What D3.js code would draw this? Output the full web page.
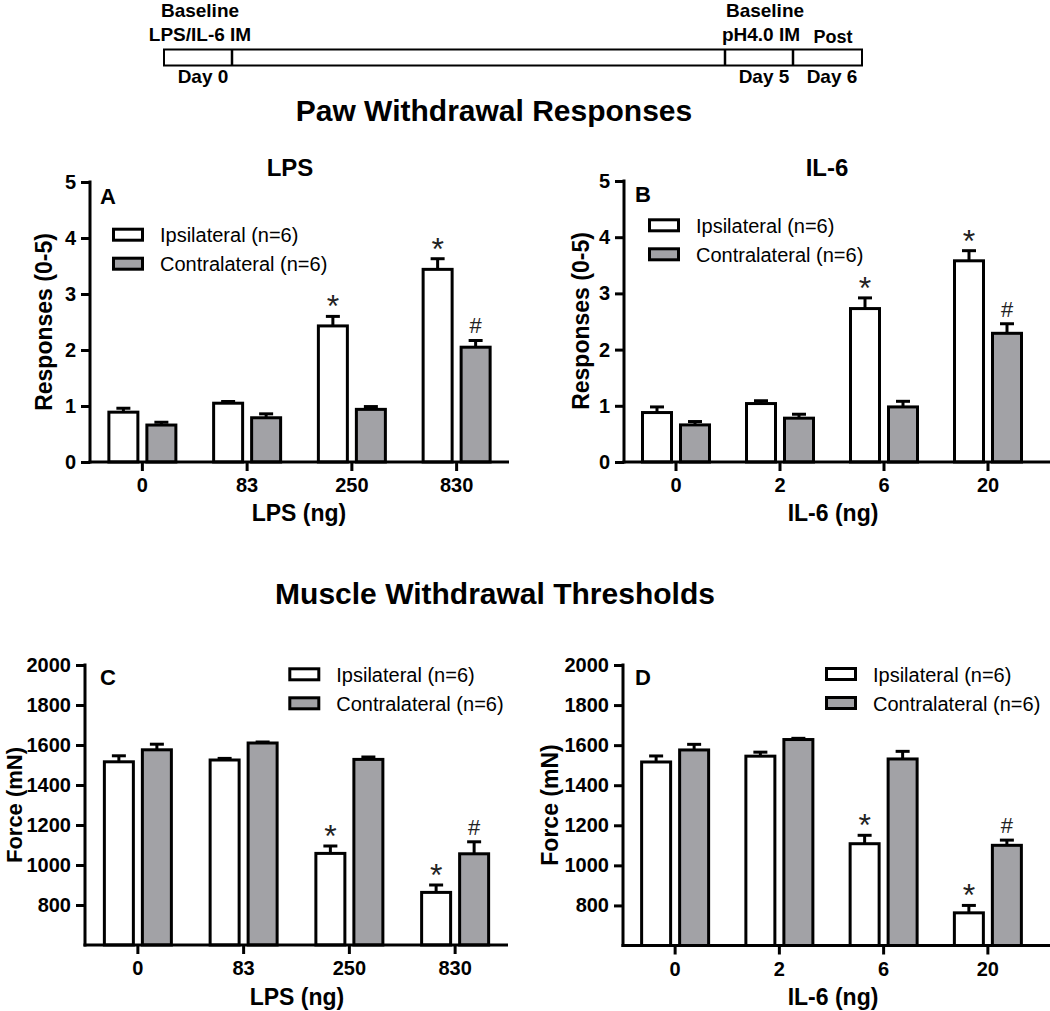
<!DOCTYPE html>
<html>
<head>
<meta charset="utf-8">
<script src="https://cdn.jsdelivr.net/npm/d3@7"></script>
<style>
  html, body { margin: 0; padding: 0; background: #fff; }
  svg { display: block; font-family: "Liberation Sans", Arial, Helvetica, sans-serif; }
</style>
</head>
<body>
<svg id="chart" width="1050" height="1011"></svg>
<script>
// ---------------- DATA ----------------
const lpsDoses = ["0", "83", "250", "830"];
const il6Doses = ["0", "2", "6", "20"];
const seriesNames = ["Ipsilateral (n=6)", "Contralateral (n=6)"];

// Paw withdrawal responses (0-5)
const pawLpsIpsi      = [0.89, 1.05, 2.43, 3.44];
const pawLpsIpsiSem   = [0.07, 0.03, 0.17, 0.19];
const pawLpsContra    = [0.66, 0.79, 0.94, 2.05];
const pawLpsContraSem = [0.05, 0.07, 0.05, 0.12];

const pawIl6Ipsi      = [0.88, 1.04, 2.73, 3.58];
const pawIl6IpsiSem   = [0.10, 0.05, 0.19, 0.18];
const pawIl6Contra    = [0.66, 0.78, 0.98, 2.29];
const pawIl6ContraSem = [0.06, 0.07, 0.10, 0.17];

// Muscle withdrawal thresholds (mN)
const musLpsIpsi      = [1516, 1525, 1058, 863];
const musLpsIpsiSem   = [30, 8, 37, 37];
const musLpsContra    = [1576, 1610, 1528, 1056];
const musLpsContraSem = [28, 5, 12, 60];

const musIl6Ipsi      = [1516, 1545, 1108, 763];
const musIl6IpsiSem   = [30, 20, 42, 37];
const musIl6Contra    = [1576, 1628, 1531, 1100];
const musIl6ContraSem = [28, 6, 38, 26];

// significance markers: [series index, category index, symbol]
const sigLps = [[0, 2, "*"], [0, 3, "*"], [1, 3, "#"]];
const sigIl6 = [[0, 2, "*"], [0, 3, "*"], [1, 3, "#"]];

const responseTicks = [0, 1, 2, 3, 4, 5];
const forceTicks = [800, 1000, 1200, 1400, 1600, 1800, 2000];

// Timeline
const timelineTop = [["Baseline", "LPS/IL-6 IM"], ["Baseline", "pH4.0 IM"]];
const timelineDays = ["Day 0", "Day 5", "Day 6"];

// ---------------- DRAW ----------------
const svg = d3.select("#chart");
const FONT = '"Liberation Sans", Arial, Helvetica, sans-serif';
const GRAY = "#a2a2a6";

// ---- timeline schematic
const tl = svg.append("g");
const tScale = d3.scaleLinear().domain([-1, 0, 5, 6, 7]).range([164, 232, 725, 793, 862]);
tl.append("rect").attr("x", tScale(-1)).attr("y", 49.5).attr("width", tScale(7) - tScale(-1)).attr("height", 16)
  .attr("fill", "#fff").attr("stroke", "#000").attr("stroke-width", 2);
[0, 5, 6].forEach(d => {
  tl.append("line").attr("x1", tScale(d)).attr("x2", tScale(d)).attr("y1", 49.5).attr("y2", 65.5)
    .attr("stroke", "#000").attr("stroke-width", 2.5);
});
const tlText = (txt, x, y, size, anchor) => tl.append("text").text(txt).attr("x", x).attr("y", y)
  .attr("font-size", size).attr("font-weight", "bold").attr("text-anchor", anchor || "middle");
tlText(timelineTop[0][0], 200, 17, 19);
tlText(timelineTop[0][1], 200, 41, 19);
tlText(timelineTop[1][0], 765, 17, 19);
tlText(timelineTop[1][1], 761, 41, 19);
tlText("Post", 833, 43, 18);
tlText(timelineDays[0], 203, 83, 19);
tlText(timelineDays[1], 764, 83, 19);
tlText(timelineDays[2], 832, 83, 19);

// ---- section titles
svg.append("text").text("Paw Withdrawal Responses").attr("x", 494).attr("y", 121)
  .attr("text-anchor", "middle").attr("font-size", 30).attr("font-weight", "bold");
svg.append("text").text("Muscle Withdrawal Thresholds").attr("x", 495).attr("y", 604)
  .attr("text-anchor", "middle").attr("font-size", 30).attr("font-weight", "bold");

// ---- panels
const panels = [
  { letter: "A", cats: lpsDoses, vals: [pawLpsIpsi, pawLpsContra], sems: [pawLpsIpsiSem, pawLpsContraSem],
    sig: sigLps, domain: [0, 5], ticks: responseTicks, title: "LPS", xTitle: "LPS (ng)", yTitle: "Responses (0-5)",
    xr: [90, 509], yr: [462, 182], axisEnd: 509, legend: [112, 227.7], letterPos: [100, 203.5],
    titlePos: [290, 176], xTitlePos: [299, 521], yTitlePos: [52, 322], yFont: 23 },
  { letter: "B", cats: il6Doses, vals: [pawIl6Ipsi, pawIl6Contra], sems: [pawIl6IpsiSem, pawIl6ContraSem],
    sig: sigIl6, domain: [0, 5], ticks: responseTicks, title: "IL-6", xTitle: "IL-6 (ng)", yTitle: "Responses (0-5)",
    xr: [624, 1040], yr: [462, 181], axisEnd: 1050, legend: [648, 218.3], letterPos: [635, 201.7],
    titlePos: [827, 176], xTitlePos: [833, 521], yTitlePos: [589, 321], yFont: 23 },
  { letter: "C", cats: lpsDoses, vals: [musLpsIpsi, musLpsContra], sems: [musLpsIpsiSem, musLpsContraSem],
    sig: sigLps, domain: [600, 2000], ticks: forceTicks, title: null, xTitle: "LPS (ng)", yTitle: "Force (mN)",
    xr: [85, 508], yr: [945, 665], axisEnd: 508, legend: [288.3, 667.3], letterPos: [100, 685],
    titlePos: null, xTitlePos: [297, 1005], yTitlePos: [22, 805], yFont: 22 },
  { letter: "D", cats: il6Doses, vals: [musIl6Ipsi, musIl6Contra], sems: [musIl6IpsiSem, musIl6ContraSem],
    sig: sigIl6, domain: [600, 2000], ticks: forceTicks, title: null, xTitle: "IL-6 (ng)", yTitle: "Force (mN)",
    xr: [623, 1040], yr: [945.5, 665], axisEnd: 1050, legend: [825, 667], letterPos: [635, 685],
    titlePos: null, xTitlePos: [833, 1005], yTitlePos: [558, 805], yFont: 23 }
];

panels.forEach(p => {
  const g = svg.append("g");
  const x0 = d3.scaleBand().domain(p.cats).range(p.xr).paddingInner(0).paddingOuter(0);
  const x1 = d3.scaleBand().domain(seriesNames).range([-33.5, 33.5]).paddingInner(0.237);
  const y = d3.scaleLinear().domain(p.domain).range(p.yr);
  const base = y(p.domain[0]);

  // bars
  seriesNames.forEach((s, si) => {
    p.cats.forEach((c, ci) => {
      const v = p.vals[si][ci], e = p.sems[si][ci];
      const bx = x0(c) + x0.bandwidth() / 2 + x1(s);
      const cx = bx + x1.bandwidth() / 2;
      // error bar (upper only)
      g.append("line").attr("x1", cx).attr("x2", cx).attr("y1", y(v)).attr("y2", y(v + e))
        .attr("stroke", "#000").attr("stroke-width", 3);
      g.append("line").attr("x1", cx - 7).attr("x2", cx + 7).attr("y1", y(v + e)).attr("y2", y(v + e))
        .attr("stroke", "#000").attr("stroke-width", 3);
      g.append("rect").attr("x", bx).attr("y", y(v)).attr("width", x1.bandwidth()).attr("height", base - y(v))
        .attr("fill", si === 0 ? "#fff" : GRAY).attr("stroke", "#000").attr("stroke-width", 3);
    });
  });

  // significance markers
  p.sig.forEach(([si, ci, sym]) => {
    const s = seriesNames[si], c = p.cats[ci];
    const cx = x0(c) + x0.bandwidth() / 2 + x1(s) + x1.bandwidth() / 2;
    const top = y(p.vals[si][ci] + p.sems[si][ci]);
    const t = g.append("text").text(sym).attr("x", cx).attr("text-anchor", "middle").attr("fill", "#222");
    if (sym === "*") t.attr("y", top + 1).attr("font-size", 32);
    else t.attr("y", top - 7).attr("font-size", 22);
  });

  // y axis
  const ya = g.append("g").attr("transform", `translate(${p.xr[0]},0)`)
    .call(d3.axisLeft(y).tickValues(p.ticks).tickFormat(d3.format("d")).tickSize(9).tickPadding(5));
  ya.select(".domain").remove();
  g.append("line").attr("x1", p.xr[0]).attr("x2", p.xr[0]).attr("y1", y(p.domain[1]) - 1.5).attr("y2", base + 1.5)
    .attr("stroke", "#000").attr("stroke-width", 3);

  // x axis
  const xa = g.append("g").attr("transform", `translate(0,${base})`)
    .call(d3.axisBottom(x0).tickSize(9).tickPadding(7));
  xa.select(".domain").remove();
  g.append("line").attr("x1", p.xr[0] - 1.5).attr("x2", p.axisEnd).attr("y1", base).attr("y2", base)
    .attr("stroke", "#000").attr("stroke-width", 3);

  [ya, xa].forEach(a => {
    a.selectAll(".tick line").attr("stroke", "#000").attr("stroke-width", 3);
    a.selectAll(".tick text").attr("font-family", FONT).attr("font-size", 20).attr("font-weight", "bold").attr("fill", "#000");
  });

  // legend
  const [lx, ly] = p.legend;
  seriesNames.forEach((s, si) => {
    g.append("rect").attr("x", lx + 1.5).attr("y", ly + 1.5 + si * 29).attr("width", 29).attr("height", 11)
      .attr("fill", si === 0 ? "#fff" : GRAY).attr("stroke", "#000").attr("stroke-width", 3);
    g.append("text").text(s).attr("x", lx + 48).attr("y", ly + 14.5 + si * 29)
      .attr("font-size", 20).attr("fill", "#000");
  });

  // texts
  g.append("text").text(p.letter).attr("x", p.letterPos[0]).attr("y", p.letterPos[1])
    .attr("font-size", 22).attr("font-weight", "bold");
  if (p.title) g.append("text").text(p.title).attr("x", p.titlePos[0]).attr("y", p.titlePos[1])
    .attr("text-anchor", "middle").attr("font-size", 24).attr("font-weight", "bold");
  g.append("text").text(p.xTitle).attr("x", p.xTitlePos[0]).attr("y", p.xTitlePos[1])
    .attr("text-anchor", "middle").attr("font-size", 23).attr("font-weight", "bold");
  g.append("text").text(p.yTitle)
    .attr("transform", `translate(${p.yTitlePos[0]},${p.yTitlePos[1]}) rotate(-90)`)
    .attr("text-anchor", "middle").attr("font-size", p.yFont).attr("font-weight", "bold");
});
</script>
</body>
</html>
